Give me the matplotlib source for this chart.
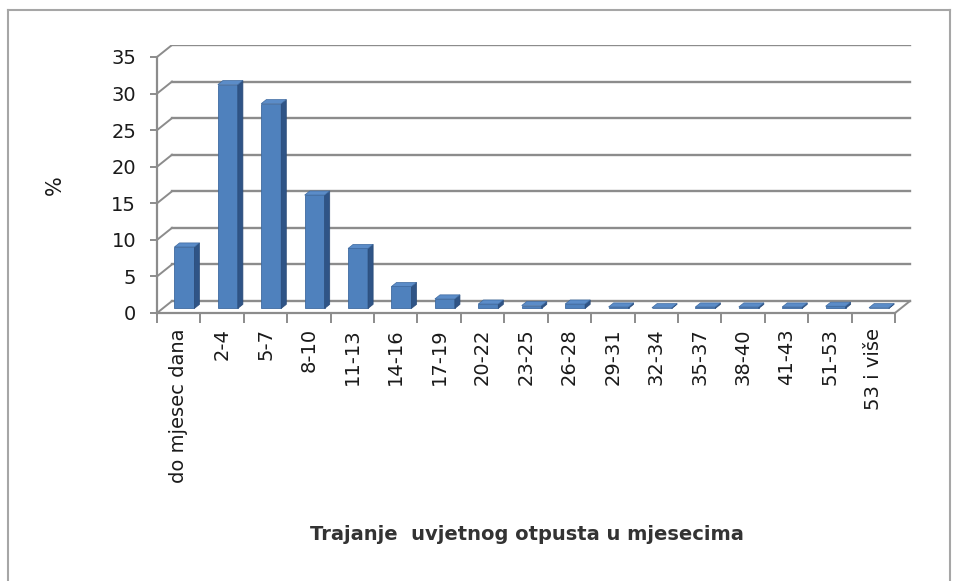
import matplotlib
matplotlib.use("Agg")
import matplotlib.pyplot as plt
from matplotlib.patches import Polygon
from matplotlib.lines import Line2D

categories = ["do mjesec dana", "2-4", "5-7", "8-10", "11-13", "14-16", "17-19",
              "20-22", "23-25", "26-28", "29-31", "32-34", "35-37", "38-40",
              "41-43", "51-53", "53 i više"]
values = [8.4, 30.6, 28.0, 15.5, 8.2, 3.0, 1.3, 0.6, 0.4, 0.6, 0.2, 0.1, 0.2,
          0.2, 0.2, 0.3, 0.1]
yticks = [0, 5, 10, 15, 20, 25, 30, 35]
ylabel = "%"
xlabel = "Trajanje  uvjetnog otpusta u mjesecima"

W, H = 957, 581
fig = plt.figure(figsize=(W / 100, H / 100), dpi=100)

# plot region (pixels)
left_px, right_px, top_px, base_px = 157, 912, 45, 313
px_per_cat = (895 - 157) / 17
px_per_unit = (313 - 57) / 35
ax = fig.add_axes([left_px / W, (H - base_px) / H, (right_px - left_px) / W,
                   (base_px - top_px) / H])
ax.set_xlim(0, (right_px - left_px) / px_per_cat)
ax.set_ylim(0, (base_px - top_px) / px_per_unit)
ax.patch.set_alpha(0)

DX = 15 / px_per_cat
DY = 12 / px_per_unit
n = len(categories)
grid_c = "#8c8c8c"

# back wall gridlines + left wall diagonals
for v in yticks:
    ax.plot([DX, n + DX], [v + DY, v + DY], color=grid_c, lw=1.7, zorder=1)
    ax.plot([0, DX], [v, v + DY], color=grid_c, lw=1.4, zorder=1)
# floor right edge
ax.plot([n, n + DX], [0, DY], color=grid_c, lw=1.4, zorder=1, clip_on=False)

# bars with depth
f0, d = 0.38, 0.34
w = 0.46
xs = [i + 0.5 + f0 * DX for i in range(n)]
b0 = f0 * DY
ax.bar(xs, values, width=w, bottom=b0, color="#4f81bd", edgecolor="#3e6aa0",
       linewidth=0.6, zorder=3)
for x, v in zip(xs, values):
    xr = x + w / 2
    xl = x - w / 2
    side = Polygon([(xr, b0), (xr + d * DX, b0 + d * DY),
                    (xr + d * DX, b0 + v + d * DY), (xr, b0 + v)],
                   closed=True, facecolor="#2f5486", edgecolor="#2a4b78",
                   lw=0.5, zorder=3)
    top = Polygon([(xl, b0 + v), (xr, b0 + v), (xr + d * DX, b0 + v + d * DY),
                   (xl + d * DX, b0 + v + d * DY)],
                  closed=True, facecolor="#5b8cc8", edgecolor="#3e6aa0",
                  lw=0.5, zorder=3)
    ax.add_patch(side)
    ax.add_patch(top)

# spines
for s in ["top", "right"]:
    ax.spines[s].set_visible(False)
ax.spines["left"].set_bounds(0, 35)
ax.spines["bottom"].set_bounds(0, n)
for s in ["left", "bottom"]:
    ax.spines[s].set_color(grid_c)
    ax.spines[s].set_linewidth(1.6)

ax.set_yticks(yticks)
ax.set_yticklabels([str(t) for t in yticks])
ax.tick_params(axis="y", length=5, width=1.4, color=grid_c, pad=10,
               labelsize=14, labelcolor="#1a1a1a")

ax.set_xticks([i + 0.5 for i in range(n)])
ax.set_xticklabels(categories, rotation=90, va="top", ha="center")
ax.tick_params(axis="x", which="major", length=0, pad=11, labelsize=14,
               labelcolor="#1a1a1a")
ax.set_xticks(list(range(n + 1)), minor=True)
ax.tick_params(axis="x", which="minor", length=7.5, width=1.4, color=grid_c)

fig.text(55 / W, 1 - 185 / H, ylabel, rotation=90, fontsize=15,
         color="#1a1a1a", ha="center", va="center")
fig.text(527 / W, 1 - 535 / H, xlabel, fontsize=14, fontweight="bold",
         color="#333333", ha="center", va="center")

# outer border
bc = "#a6a6a6"
fig.add_artist(Line2D([8 / W, 8 / W], [0, 1 - 10 / H], color=bc, lw=1.5,
                      transform=fig.transFigure))
fig.add_artist(Line2D([8 / W, 950 / W], [1 - 10 / H, 1 - 10 / H], color=bc,
                      lw=1.5, transform=fig.transFigure))
fig.add_artist(Line2D([950 / W, 950 / W], [0, 1 - 10 / H], color=bc, lw=1.5,
                      transform=fig.transFigure))

fig.savefig("out.png", dpi=100)
